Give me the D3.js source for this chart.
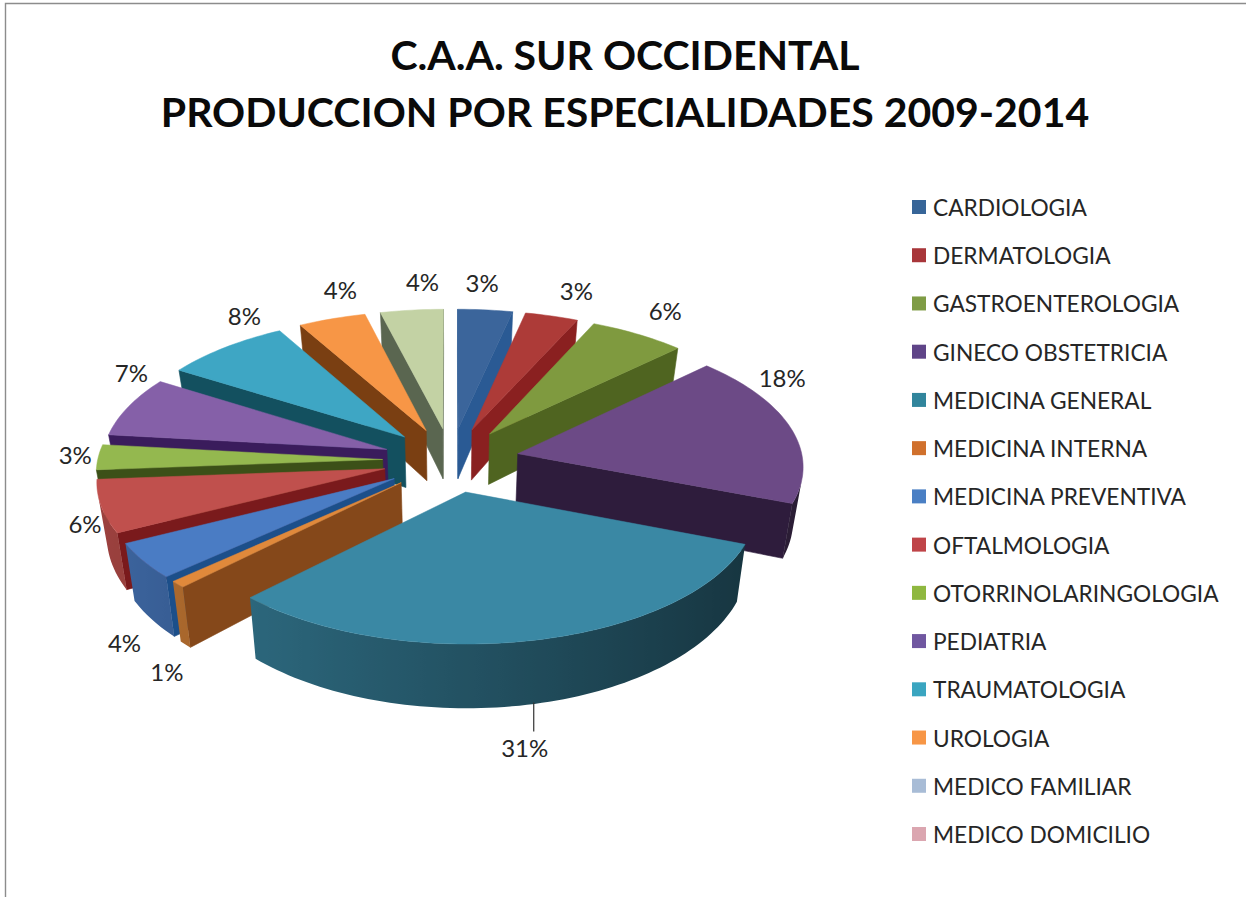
<!DOCTYPE html>
<html>
<head>
<meta charset="utf-8">
<script src="https://cdn.jsdelivr.net/npm/d3@7"></script>
<style>
html,body{margin:0;padding:0;background:#fff;}
svg{display:block;}
text{font-family:Lato,"Open Sans",sans-serif;fill:#262626;}
</style>
</head>
<body>
<div id="chart"></div>
<script>
var titleLines = ["C.A.A. SUR OCCIDENTAL", "PRODUCCION POR ESPECIALIDADES 2009-2014"];
var categories = ["CARDIOLOGIA","DERMATOLOGIA","GASTROENTEROLOGIA","GINECO OBSTETRICIA","MEDICINA GENERAL","MEDICINA INTERNA","MEDICINA PREVENTIVA","OFTALMOLOGIA","OTORRINOLARINGOLOGIA","PEDIATRIA","TRAUMATOLOGIA","UROLOGIA","MEDICO FAMILIAR","MEDICO DOMICILIO"];
// percentages estimated from the slices, the labels are these rounded
var values = [3.4,3.3,6.0,18.2,31.4,0.8,4.3,6.3,3.0,7.2,7.9,4.2,3.9,0];

var legendColors = ["#376598","#a8363a","#7f9c45","#5f4488","#31859c","#d0702c","#4a7fc4","#bf4448","#8fb840","#7057a0","#3aa5c0","#f79646","#a8bcd6","#dba6b0"];
var topColors = ["#3b659b","#ad3b38","#7f9a3f","#6c4a86","#3a88a4","#e0893b","#4a7cc4","#c0504d","#94b84f","#8560a8","#3ea6c4","#f79646","#c3d2a4",""];
var wallColors = ["#2a5a94","#8a2020","#4f6420","#2e1c3c","#1c4f66","#85481a","#1c4f8a","#7a1a1c","#3c5018","#3a1c5c","#13505f","#7a3f12","#5a6650",""];
// excel best-fit moved these labels away from the mid angle
var labelNudge = [[-5,0],[19,1],[17,-1],[-26,-44],[-62,7],[2,71],[-4,68],[1,12],[-5,-1],[20,-24],[32,-12],[15,-4],[13,-1],[0,0]];

var width = 1246, height = 897;
var cx = 451, cy = 460, rx = 285, ry = 134;
var persp = 0.0816, explode = 0.24, thick = 52, shrink = 0.972;

var svg = d3.select("#chart").append("svg").attr("width", width).attr("height", height);

// frame of the original picture, only top and left show
svg.append("path").attr("d", d3.line()([[5.5,897],[5.5,3.5],[1246,3.5]]))
    .attr("fill", "none").attr("stroke", "#8c8c8c").attr("stroke-width", 1.4);

svg.selectAll(".title").data(titleLines).enter().append("text")
    .attr("class", "title")
    .attr("x", 625)
    .attr("y", function(d, i) { return 70 + i * 57; })
    .attr("text-anchor", "middle")
    .attr("font-size", 41)
    .attr("font-weight", 700)
    .style("fill", "#0a0a0a")
    .text(function(d) { return d; });

// project a point of the pie plane (1 = rim) to the screen
function scaleAt(Z) { return 1 / (1 + persp * Z); }
function project(X, Z) {
    var s = scaleAt(Z);
    return [cx + rx * X * s, cy - ry * Z * s];
}
function lower(p, Z) {
    var s = scaleAt(Z);
    return [cx + (p[0] - cx) * shrink, p[1] + thick * s * s];
}

var pie = d3.pie().sort(null).value(function(d) { return d; });
var line = d3.line();

var slices = pie(values).map(function(d, i) {
    d.index = i;
    d.mid = (d.startAngle + d.endAngle) / 2;
    d.ox = explode * Math.sin(d.mid);
    d.oz = explode * Math.cos(d.mid);
    return d;
}).filter(function(d) { return d.value > 0; });

// back to front
slices.sort(function(a, b) { return b.oz - a.oz; });

function shade(color, sinA) {
    return d3.interpolateRgb("#000", color)(0.6 - 0.22 * sinA);
}

var defs = svg.append("defs");

slices.forEach(function(d) {
    var g = svg.append("g").attr("class", "slice");
    var n = Math.max(4, Math.round((d.endAngle - d.startAngle) * 40));
    var angle = d3.scaleLinear().domain([0, n]).range([d.startAngle, d.endAngle]);
    var plane = [[d.ox, d.oz]];
    d3.range(n + 1).forEach(function(k) {
        plane.push([d.ox + Math.sin(angle(k)), d.oz + Math.cos(angle(k))]);
    });
    var top = plane.map(function(q) { return project(q[0], q[1]); });
    var low = top.map(function(p, k) { return lower(p, plane[k][1]); });

    // the two straight walls, only when turned to the viewer
    [0, top.length - 1].forEach(function(k) {
        var j = (k + 1) % top.length;
        var quad = [top[k], top[j], low[j], low[k]];
        if (d3.polygonArea(quad) <= 0) return;
        g.append("path").attr("d", line(quad) + "Z")
            .attr("fill", wallColors[d.index]).attr("stroke", wallColors[d.index]).attr("stroke-width", 0.6);
    });

    // round wall as one path with a left to right gradient
    var seen = d3.range(1, top.length - 1).filter(function(k) {
        return d3.polygonArea([top[k], top[k + 1], low[k + 1], low[k]]) > 0;
    });
    if (seen.length) {
        var idx = seen.concat(seen[seen.length - 1] + 1);
        var xs = idx.map(function(k) { return top[k][0]; });
        var x0 = d3.min(xs), x1 = d3.max(xs);
        var grad = defs.append("linearGradient").attr("id", "rim" + d.index)
            .attr("gradientUnits", "userSpaceOnUse")
            .attr("x1", x0).attr("x2", x1).attr("y1", 0).attr("y2", 0);
        idx.slice().sort(function(a, b) { return top[a][0] - top[b][0]; }).forEach(function(k) {
            grad.append("stop")
                .attr("offset", (top[k][0] - x0) / Math.max(1, x1 - x0))
                .attr("stop-color", shade(topColors[d.index], Math.sin(angle(k - 1))));
        });
        var outline = idx.map(function(k) { return top[k]; })
            .concat(idx.slice().reverse().map(function(k) { return low[k]; }));
        g.append("path").attr("d", line(outline) + "Z")
            .attr("fill", "url(#rim" + d.index + ")");
    }

    g.append("path").attr("d", line(top) + "Z")
        .attr("fill", topColors[d.index]).attr("stroke", topColors[d.index]).attr("stroke-width", 0.5);
});

// percent labels outside the rim
slices.forEach(function(d) {
    var Z = d.oz + Math.cos(d.mid);
    var rimP = project(d.ox + Math.sin(d.mid), Z);
    var p = [rimP[0] + 18 * Math.sin(d.mid), rimP[1] - 26 * Math.cos(d.mid)];
    if (d.value > 25) {
        var rimL = lower(rimP, Z);
        p = [rimL[0] + 56, rimL[1] + 38];
        svg.append("line").attr("x1", p[0] + labelNudge[d.index][0] + 9).attr("x2", p[0] + labelNudge[d.index][0] + 9)
            .attr("y1", rimL[1] - 2).attr("y2", rimL[1] + 27)
            .attr("stroke", "#333").attr("stroke-width", 1.2);
    }
    svg.append("text").attr("class", "pct")
        .attr("x", p[0] + labelNudge[d.index][0]).attr("y", p[1] + labelNudge[d.index][1] + 8)
        .attr("text-anchor", "middle")
        .attr("font-size", 24)
        .text(d3.format(".0f")(d.value) + "%");
});

// legend
var legendY = d3.scalePoint().domain(categories).range([207, 834]);
var legend = svg.selectAll(".legend").data(categories).enter().append("g")
    .attr("class", "legend")
    .attr("transform", function(d) { return "translate(912," + legendY(d) + ")"; });
legend.append("rect").attr("x", 0).attr("y", -7).attr("width", 14).attr("height", 14)
    .attr("fill", function(d, i) { return legendColors[i]; });
legend.append("text").attr("x", 21).attr("y", 9)
    .attr("font-size", 22.7)
    .text(function(d) { return d; });
</script>
</body>
</html>
